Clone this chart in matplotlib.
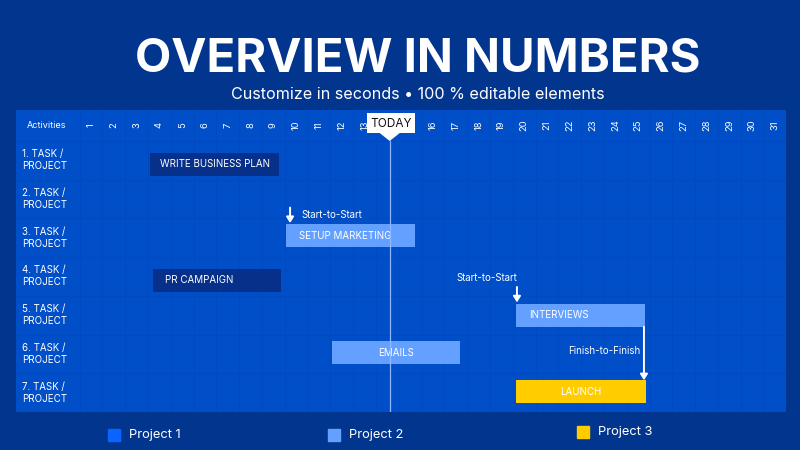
import numpy as np
import matplotlib
matplotlib.use('Agg')
import matplotlib.pyplot as plt
from matplotlib.patches import Rectangle, Polygon

plt.rcParams['font.family'] = ['Inter', 'DejaVu Sans']

# data
days = list(range(1, 32))
rows = ['1. TASK /\nPROJECT', '2. TASK /\nPROJECT', '3. TASK /\nPROJECT', '4. TASK /\nPROJECT',
        '5. TASK /\nPROJECT', '6. TASK /\nPROJECT', '7. TASK /\nPROJECT']
tasks = ['WRITE BUSINESS PLAN', 'SETUP MARKETING', 'PR CAMPAIGN', 'INTERVIEWS', 'EMAILS', 'LAUNCH']
task_row = [1.1, 2.95, 4.1, 5.0, 5.97, 6.98]
task_start = [3.6, 9.55, 3.7, 19.65, 11.55, 19.65]
task_end = [9.25, 15.2, 9.35, 25.3, 17.2, 25.35]
task_kind = ['dark', 'light', 'dark', 'light', 'light', 'yellow']
label_align = ['center', 'left', 'left', 'left', 'center', 'center']
today = 14.1
projects = ['Project 1', 'Project 2', 'Project 3']

BG = '#02358e'
PANEL = '#004ec8'
GRID = '#004ac0'
colors = {'dark': '#06308a', 'light': '#64a0ff', 'yellow': '#ffcc00'}
proj_colors = ['#0a64ff', '#64a0ff', '#ffcc00']

fig = plt.figure(figsize=(8, 4.5), dpi=100, facecolor=BG)

# background axes in pixel coords for title and legend
bg = fig.add_axes([0, 0, 1, 1])
bg.set_xlim(0, 800)
bg.set_ylim(450, 0)
bg.axis('off')
bg.text(418, 71, 'OVERVIEW IN NUMBERS', color='white', fontsize=34, fontweight='bold',
        ha='center', va='baseline')
bg.text(418, 99, 'Customize in seconds \u2022 100 % editable elements', color='white',
        fontsize=11.6, ha='center', va='baseline')
leg_x = [108, 328, 577]
leg_y = [435, 435, 432]
for name, c, lx, ly in zip(projects, proj_colors, leg_x, leg_y):
    bg.add_patch(Rectangle((lx, ly - 6), 12, 12, color=c))
    bg.text(lx + 21, ly, name, color='white', fontsize=9.3, va='center', ha='left')

# gantt panel
ax = fig.add_axes([16 / 800, 1 - 412 / 450, 770 / 800, 302 / 450])
ax.set_facecolor(PANEL)
ax.set_xlim(-2.29, 31.48)
ax.set_ylim(7.5, -0.3)
for s in ax.spines.values():
    s.set_visible(False)
ax.set_xticks([])
ax.set_yticks([])

for d in days:
    ax.axvline(d - 0.5, color=GRID, lw=0.6, zorder=1)
for r in range(len(rows) + 1):
    ax.axhline(r + 0.5, color=GRID, lw=0.8, zorder=1)

# today label box covers the header from 13.1 to 15.2
box_l, box_r = 13.1, 15.2
header_y = 0.09
ax.text(-0.93, header_y, 'Activities', color='white', fontsize=6.5, ha='center', va='center')
for d in days:
    if box_l < d < box_r:
        continue
    ax.text(d, header_y, str(d), color='white', fontsize=6.8, rotation=90,
            ha='center', va='center')
for i, r in enumerate(rows):
    ax.text(-2.03, i + 1, r, color='white', fontsize=7, ha='left', va='center', linespacing=1.25)

bh = 0.6
for t, r, s, e, k, al in zip(tasks, task_row, task_start, task_end, task_kind, label_align):
    ax.barh(r, e - s, left=s, height=bh, color=colors[k], zorder=3)
    if al == 'center':
        ax.text((s + e) / 2, r, t, color='white', fontsize=7, ha='center', va='center', zorder=4)
    else:
        ax.text(s + 0.55, r, t, color='white', fontsize=7, ha='left', va='center', zorder=4)

# today marker
ax.plot([today, today], [0.5, 7.5], color='#8fb6ff', lw=0.9, zorder=5)
ax.add_patch(Rectangle((box_l, -0.22), box_r - box_l, 0.52, facecolor='white', edgecolor='none', zorder=6))
ax.add_patch(Polygon([[today - 0.45, 0.29], [today + 0.45, 0.29], [today, 0.5]],
                     facecolor='white', edgecolor='none', zorder=6))
ax.text(14.15, 0.05, 'TODAY', color='#111111', fontsize=8.5, ha='center', va='center', zorder=7)

# dependency arrows
arr = dict(arrowstyle='-|>,head_width=0.22,head_length=0.35', color='white', lw=1.4,
           shrinkA=0, shrinkB=0)
x1 = task_start[1] + 0.18
ax.annotate('', xy=(x1, 2.62), xytext=(x1, 2.22), arrowprops=arr, zorder=8)
ax.text(x1 + 0.48, 2.41, 'Start-to-Start', color='white', fontsize=7, ha='left', va='center')
x2 = task_start[3] + 0.03
ax.annotate('', xy=(x2, 4.67), xytext=(x2, 4.27), arrowprops=arr, zorder=8)
ax.text(x2 - 1.3, 4.04, 'Start-to-Start', color='white', fontsize=7, ha='center', va='center')
x3 = task_end[3] - 0.05
ax.annotate('', xy=(x3, 6.68), xytext=(x3, 5.3), arrowprops=arr, zorder=8)
ax.text(x3 - 0.17, 5.93, 'Finish-to-Finish', color='white', fontsize=7, ha='right', va='center')

fig.savefig('out.png', dpi=100, facecolor=BG)
